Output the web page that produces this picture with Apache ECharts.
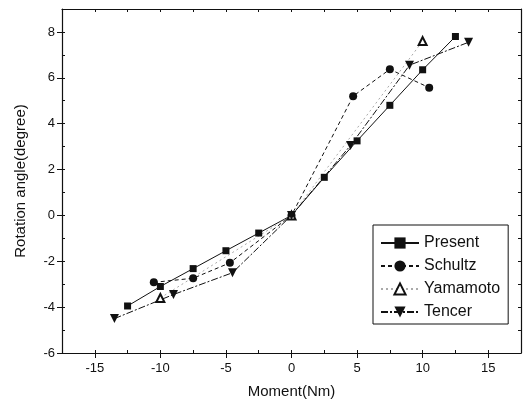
<!DOCTYPE html>
<html>
<head>
<meta charset="utf-8">
<script src="https://cdn.jsdelivr.net/npm/echarts@6/dist/echarts.min.js"></script>
<style>
  html, body { margin: 0; padding: 0; background: #fff; }
  #chart { width: 529px; height: 407px; }
</style>
</head>
<body>
<div id="chart"></div>
<script>
// values
var presentX = [-12.5, -10, -7.5, -5, -2.5, 0, 2.5, 5, 7.5, 10, 12.5]
var presentY = [-3.95, -3.1, -2.32, -1.54, -0.77, 0, 1.66, 3.25, 4.8, 6.35, 7.8]
var schultzX = [-10.5, -7.5, -4.7, 0, 4.7, 7.5, 10.5]
var schultzY = [-2.92, -2.74, -2.07, 0, 5.2, 6.37, 5.57]
var yamamotoX = [-10, 0, 10]
var yamamotoY = [-3.6, 0, 7.6]
var tencerX = [-13.5, -9, -4.5, 0, 4.5, 9, 13.5]
var tencerY = [-4.5, -3.45, -2.5, 0, 3.05, 6.55, 7.55]
var xTicks = [-15, -10, -5, 0, 5, 10, 15]
var yTicks = [-6, -4, -2, 0, 2, 4, 6, 8]

function pairs (xs, ys) {
  return xs.map(function (x, i) { return [x, ys[i]] })
}

var ink = '#111'
var font = 'Liberation Sans, Arial, sans-serif'

var chart = echarts.init(document.getElementById('chart'))

var xBase = {min: -17.5, max: 17.5, type: 'value', splitLine: {show: false}}
var yBase = {min: -6, max: 9, type: 'value', splitLine: {show: false}}

chart.setOption({
  animation: false,
  backgroundColor: '#fff',
  grid: {left: 62, right: 8, top: 9, bottom: 54},
  legend: {
    orient: 'vertical',
    left: 373,
    top: 225,
    padding: [10, 8, 4, 7],
    itemWidth: 38,
    itemHeight: 14,
    itemGap: 7,
    borderColor: ink,
    borderWidth: 1,
    textStyle: {fontFamily: font, fontSize: 16, color: ink},
    data: ['Present', 'Schultz', 'Yamamoto', 'Tencer']
  },
  xAxis: [
    Object.assign({}, xBase, {
      position: 'bottom',
      name: 'Moment(Nm)',
      nameLocation: 'middle',
      nameGap: 31,
      nameTextStyle: {fontFamily: font, fontSize: 15, color: ink},
      axisLine: {onZero: false, lineStyle: {color: ink, width: 1.2}},
      axisTick: {customValues: xTicks, length: 5, lineStyle: {color: ink}},
      axisLabel: {customValues: xTicks, fontFamily: font, fontSize: 13, color: ink, margin: 9}
    }),
    Object.assign({}, xBase, {
      position: 'bottom',
      interval: 2.5,
      axisLine: {show: false, onZero: false},
      axisTick: {inside: true, length: 3, lineStyle: {color: ink}},
      axisLabel: {show: false}
    }),
    Object.assign({}, xBase, {
      position: 'top',
      interval: 2.5,
      axisLine: {onZero: false, lineStyle: {color: ink, width: 1.2}},
      axisTick: {inside: true, length: 3, lineStyle: {color: ink}},
      axisLabel: {show: false}
    })
  ],
  yAxis: [
    Object.assign({}, yBase, {
      position: 'left',
      name: 'Rotation angle(degree)',
      nameLocation: 'middle',
      nameGap: 34,
      nameTextStyle: {fontFamily: font, fontSize: 15, color: ink},
      axisLine: {onZero: false, lineStyle: {color: ink, width: 1.2}},
      axisTick: {customValues: yTicks, length: 5, lineStyle: {color: ink}},
      axisLabel: {customValues: yTicks, fontFamily: font, fontSize: 13, color: ink, margin: 7}
    }),
    Object.assign({}, yBase, {
      position: 'left',
      interval: 1,
      axisLine: {show: false, onZero: false},
      axisTick: {inside: true, length: 3, lineStyle: {color: ink}},
      axisLabel: {show: false}
    }),
    Object.assign({}, yBase, {
      position: 'right',
      interval: 1,
      axisLine: {onZero: false, lineStyle: {color: ink, width: 1.2}},
      axisTick: {inside: true, length: 3, lineStyle: {color: ink}},
      axisLabel: {show: false}
    })
  ],
  series: [
    {
      name: 'Present',
      type: 'line',
      data: pairs(presentX, presentY),
      symbol: 'rect',
      symbolSize: 7,
      itemStyle: {color: ink},
      lineStyle: {color: ink, width: 1}
    },
    {
      name: 'Schultz',
      type: 'line',
      data: pairs(schultzX, schultzY),
      symbol: 'circle',
      symbolSize: 8,
      itemStyle: {color: ink},
      lineStyle: {color: ink, width: 1, type: [4, 3]}
    },
    {
      name: 'Yamamoto',
      type: 'line',
      data: pairs(yamamotoX, yamamotoY),
      symbol: 'emptyTriangle',
      symbolSize: 8,
      itemStyle: {color: ink, borderWidth: 1.5},
      lineStyle: {color: '#aaa', width: 1, type: [2, 3]},
      z: 3
    },
    {
      name: 'Tencer',
      type: 'line',
      data: pairs(tencerX, tencerY),
      symbol: 'triangle',
      symbolRotate: 180,
      symbolSize: 9,
      itemStyle: {color: ink},
      lineStyle: {color: ink, width: 1, type: [7, 2, 2, 2]}
    }
  ]
})
</script>
</body>
</html>
